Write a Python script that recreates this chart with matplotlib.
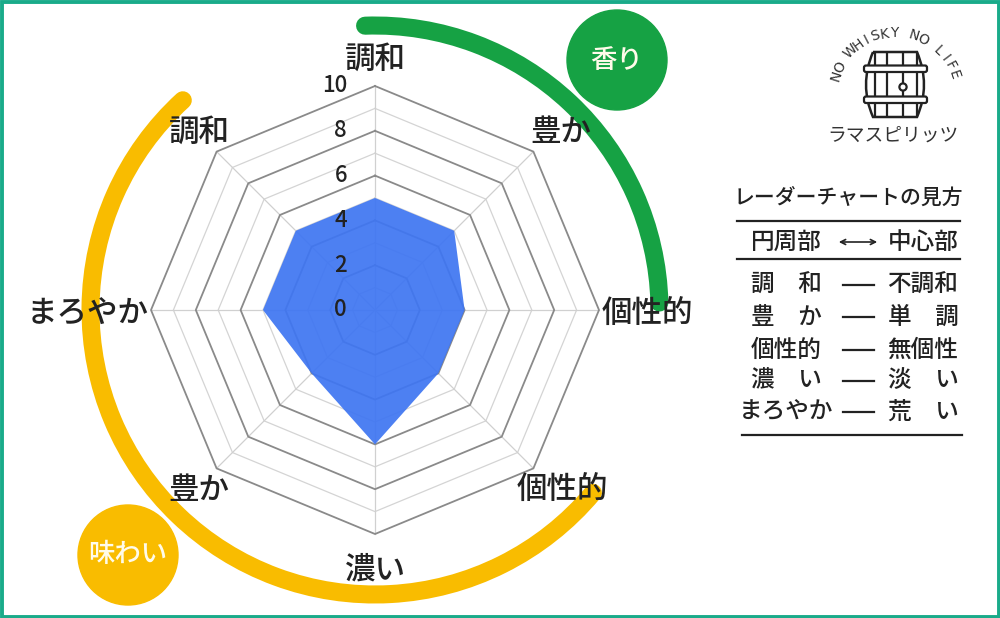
import numpy as np
import matplotlib.pyplot as plt
from matplotlib.patches import Arc, Circle, Rectangle, FancyBboxPatch, PathPatch
from matplotlib.path import Path

plt.rcParams['font.family'] = ['Noto Sans CJK JP', 'DejaVu Sans']
plt.rcParams['font.weight'] = 'medium'

# ---- データ ----
axis_labels = ['調和', '豊か', '個性的', '個性的', '濃い', '豊か', 'まろやか', '調和']
scores = [5, 5, 4, 4, 6, 4, 5, 5]
ticks = [0, 2, 4, 6, 8, 10]
rmax = 10

group_labels = ['香り', '味わい']
table_title = 'レーダーチャートの見方'
header_left = '円周部'
header_right = '中心部'
left_terms = ['調\u3000和', '豊\u3000か', '個性的', '濃\u3000い', 'まろやか']
right_terms = ['不調和', '単\u3000調', '無個性', '淡\u3000い', '荒\u3000い']
logo_arc_text = 'NO WHISKY NO LIFE'
logo_name = 'ラマスピリッツ'

W, H = 1000, 618
cx, cy = 375, 310   # レーダー中心 (px)
unit = 22.4         # 1目盛りあたりの px

text_c = '#222222'
green = '#16a244'
yellow = '#f9bc00'
blue = '#3f76f2'

fig = plt.figure(figsize=(10, 6.18), dpi=100)

# 背景・右パネル用（ピクセル座標）
bg = fig.add_axes([0, 0, 1, 1])
bg.set_xlim(0, W)
bg.set_ylim(H, 0)
bg.axis('off')

# レーダー用（値の単位）
ax = fig.add_axes([0, 0, 1, 1])
ax.set_xlim(-cx / unit, (W - cx) / unit)
ax.set_ylim(-(H - cy) / unit, cy / unit)
ax.axis('off')
ax.patch.set_alpha(0)

n = len(axis_labels)
theta = np.arange(n) * 2 * np.pi / n
sx, sy = np.sin(theta), np.cos(theta)

# グリッド（八角形）
for k in range(1, rmax + 1):
    xs = np.append(k * sx, k * sx[0])
    ys = np.append(k * sy, k * sy[0])
    if k % 2 == 0:
        ax.plot(xs, ys, color='#8a8a8a', lw=1.3, zorder=2)
    else:
        ax.plot(xs, ys, color='#d4d4d4', lw=0.9, zorder=1)
for i in range(n):
    ax.plot([0, rmax * sx[i]], [0, rmax * sy[i]], color='#d0d0d0', lw=0.9, zorder=1)

# データ
vals = np.array(scores, dtype=float)
ax.fill(np.append(vals * sx, vals[0] * sx[0]), np.append(vals * sy, vals[0] * sy[0]),
        color=blue, alpha=0.93, lw=0, zorder=3)

for t in ticks:
    ax.text(-1.25, t, str(t), ha='right', va='center', fontsize=16, color=text_c, zorder=5)

# 軸ラベル（微調整は px 単位）
nudge = [(0, -7), (0, 7), (0, -4), (-14, -10), (0, -9), (10, -10), (0, -4), (10, 7)]
for i, lab in enumerate(axis_labels):
    s, c = sx[i], sy[i]
    if abs(s) < 1e-6:
        r = 10.8 if c > 0 else 10.5
        ha = 'center'
        va = 'bottom' if c > 0 else 'top'
    elif abs(c) < 1e-6:
        r = 10.1
        ha = 'left' if s > 0 else 'right'
        va = 'center'
    else:
        r = 9.8
        ha = 'left' if s > 0 else 'right'
        va = 'bottom' if c > 0 else 'top'
    dx, dy = nudge[i]
    ax.text(r * s + dx / unit, r * c + dy / unit, lab, ha=ha, va=va,
            fontsize=22, color=text_c, zorder=5)

# 香り・味わいの弧
r_arc = 12.7
ax.add_patch(Arc((0, 0), 2 * r_arc, 2 * r_arc, theta1=1.5, theta2=92,
                 color=green, lw=13, capstyle='round', zorder=4))
ax.add_patch(Arc((0, 0), 2 * r_arc, 2 * r_arc, theta1=132.5, theta2=320,
                 color=yellow, lw=13, capstyle='round', zorder=4))

bg.add_patch(Circle((617, 60), 50, color=green, zorder=5))
bg.text(617, 60, group_labels[0], ha='center', va='center', fontsize=19, color='#fffbea', zorder=6)
bg.add_patch(Circle((128, 555), 50, color=yellow, zorder=5))
bg.text(128, 555, group_labels[1], ha='center', va='center', fontsize=19, color='#fffbea', zorder=6)

# ---- ロゴ ----
lc, lr = (895, 95), 62
a0, a1 = 162, 19
for i, ch in enumerate(logo_arc_text):
    a = np.deg2rad(a0 - i * (a0 - a1) / (len(logo_arc_text) - 1))
    bg.text(lc[0] + lr * np.cos(a), lc[1] - lr * np.sin(a), ch,
            rotation=np.rad2deg(a) - 90, rotation_mode='anchor',
            ha='center', va='center', fontsize=10, color='#333333',
            family='DejaVu Sans', fontweight='normal')

barrel = Path([(873, 52), (917, 52), (931, 85), (917, 117), (873, 117), (859, 85), (873, 52)],
              [Path.MOVETO, Path.LINETO, Path.CURVE3, Path.CURVE3, Path.LINETO,
               Path.CURVE3, Path.CURVE3])
bg.add_patch(PathPatch(barrel, fc='white', ec='#222222', lw=1.8, zorder=3))
for x in [875, 887, 917]:
    bg.plot([x, x], [53, 116], color='#222222', lw=1.6, zorder=4)
bg.plot([903, 903], [53, 83], color='#222222', lw=1.6, zorder=4)
bg.plot([903, 903], [91, 116], color='#222222', lw=1.6, zorder=4)
bg.add_patch(Circle((903, 87), 3.6, fc='white', ec='#222222', lw=1.6, zorder=5))
for y0 in [65.5, 96.5]:
    bg.add_patch(FancyBboxPatch((864, y0), 63, 6.5, boxstyle='round,pad=0,rounding_size=2',
                                fc='white', ec='#222222', lw=1.6, zorder=5))
bg.text(893, 135, logo_name, ha='center', va='center', fontsize=13.5, color='#333333',
        fontweight='normal')

# ---- 見方の表 ----
bg.text(848, 198, table_title, ha='center', va='center', fontsize=15, color=text_c)
bg.plot([737, 960], [221, 221], color=text_c, lw=1.6)
bg.text(786, 242, header_left, ha='center', va='center', fontsize=17, color=text_c)
bg.annotate('', xy=(880, 242), xytext=(836, 242),
            arrowprops=dict(arrowstyle='<->', color=text_c, lw=1.2, mutation_scale=9))
bg.text(923, 242, header_right, ha='center', va='center', fontsize=17, color=text_c)
bg.plot([737, 960], [259, 259], color=text_c, lw=1.6)

row_y = [285, 317, 350, 381, 412]
for y, lt, rt in zip(row_y, left_terms, right_terms):
    bg.text(786, y, lt, ha='center', va='center', fontsize=17, color=text_c)
    bg.plot([843, 874], [y, y], color=text_c, lw=1.6)
    bg.text(923, y, rt, ha='center', va='center', fontsize=17, color=text_c)
bg.plot([742, 962], [435, 435], color=text_c, lw=1.6)

# 枠
bg.add_patch(Rectangle((1.5, 1.5), W - 3, H - 3, fill=False, ec='#1aab8a', lw=2.8, zorder=10))

fig.savefig('out.png', dpi=100)
